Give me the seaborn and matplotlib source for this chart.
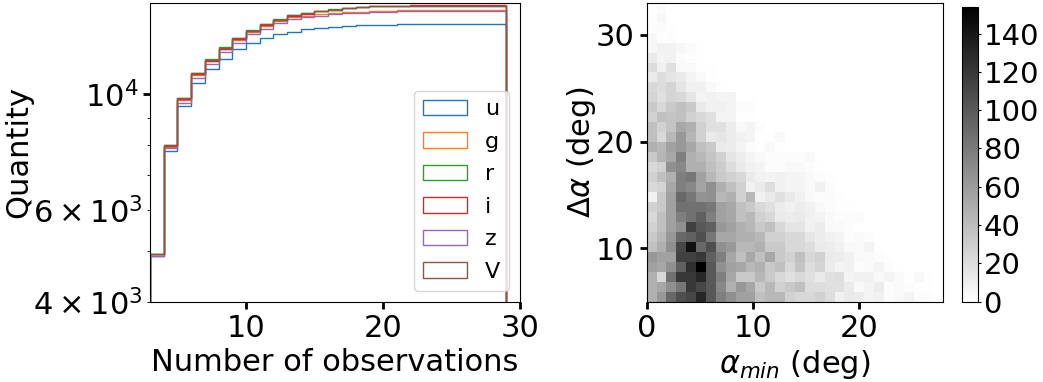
import numpy as np
import matplotlib
matplotlib.use("Agg")
import matplotlib.pyplot as plt
import seaborn as sns

plt.rcParams["font.family"] = ["DejaVu Sans"]
plt.rcParams["font.size"] = 22
plt.rcParams["mathtext.fontset"] = "dejavusans"

# ---------------- cumulative number of objects vs. number of observations
obs_edges = np.arange(3, 30)          # bins [3,4), [4,5), ... [28,29]
filters = ["u", "g", "r", "i", "z", "V"]

cum_u = [4895, 7794, 9504, 10530, 11200, 11705, 12200, 12564, 12808, 13055,
         13190, 13330, 13427, 13483, 13527, 13570, 13587, 13605, 13615, 13622,
         13627, 13627, 13627, 13627, 13627, 13627]
cum_g = [4905, 7940, 9760, 10880, 11570, 12190, 12710, 13170, 13520, 13820,
         14080, 14140, 14245, 14307, 14370, 14410, 14452, 14475, 14495, 14517,
         14517, 14517, 14517, 14517, 14517, 14517]
cum_r = [4940, 8000, 9835, 10990, 11665, 12305, 12830, 13275, 13655, 13940,
         14200, 14340, 14480, 14570, 14660, 14740, 14775, 14795, 14800, 14800,
         14800, 14800, 14800, 14800, 14800, 14800]
cum_i = [4930, 7960, 9790, 10930, 11610, 12240, 12760, 13200, 13580, 13870,
         14130, 14280, 14430, 14520, 14615, 14700, 14750, 14790, 14805, 14810,
         14810, 14810, 14810, 14810, 14810, 14810]
cum_z = [4900, 7878, 9640, 10736, 11436, 12043, 12563, 13055, 13364, 13688,
         13970, 14050, 14160, 14245, 14307, 14346, 14389, 14410, 14430, 14445,
         14452, 14452, 14452, 14452, 14452, 14452]
cum_V = [4937, 7994, 9825, 10975, 11645, 12288, 12808, 13250, 13627, 13908,
         14166, 14307, 14452, 14536, 14627, 14710, 14757, 14795, 14795, 14795,
         14795, 14795, 14795, 14795, 14795, 14795]
cumulative = [cum_u, cum_g, cum_r, cum_i, cum_z, cum_V]

# ---------------- phase-angle coverage: alpha_min vs. delta alpha
alpha_min_range = (0.0, 27.9)
delta_alpha_range = (5.0, 33.0)
n_bins = 30
# counts per cell, first row = largest delta alpha
counts_rows = [
    [0, 3, 0, 0, 0, 0, 0, 0, 0, 0, 0, 0, 0, 0, 0, 0, 0, 0, 0, 0, 0, 0, 0, 0, 0, 0, 0, 0, 0, 0],
    [1, 5, 0, 0, 0, 0, 0, 0, 0, 0, 0, 0, 0, 0, 0, 0, 0, 0, 0, 0, 0, 0, 0, 0, 0, 0, 0, 0, 0, 0],
    [2, 3, 1, 0, 0, 0, 0, 0, 0, 0, 0, 0, 0, 0, 0, 0, 0, 0, 0, 0, 0, 0, 0, 0, 0, 0, 0, 0, 0, 0],
    [5, 1, 2, 0, 0, 0, 0, 0, 0, 0, 0, 0, 0, 0, 0, 0, 0, 0, 0, 0, 0, 0, 0, 0, 0, 0, 0, 0, 0, 0],
    [6, 8, 8, 5, 3, 1, 0, 0, 0, 0, 0, 0, 0, 0, 0, 0, 0, 0, 0, 0, 0, 0, 0, 0, 0, 0, 0, 0, 0, 0],
    [13, 7, 9, 3, 1, 1, 0, 0, 0, 0, 0, 0, 0, 0, 0, 0, 0, 0, 0, 0, 0, 0, 0, 0, 0, 0, 0, 0, 0, 0],
    [21, 9, 19, 4, 4, 1, 1, 0, 0, 0, 0, 0, 0, 0, 0, 0, 0, 0, 0, 0, 0, 0, 0, 0, 0, 0, 0, 0, 0, 0],
    [13, 21, 16, 13, 7, 4, 1, 0, 0, 0, 0, 0, 0, 0, 0, 0, 0, 0, 0, 0, 0, 0, 0, 0, 0, 0, 0, 0, 0, 0],
    [24, 21, 26, 16, 9, 9, 4, 1, 0, 0, 0, 0, 0, 0, 0, 0, 0, 0, 0, 0, 0, 0, 0, 0, 0, 0, 0, 0, 0, 0],
    [26, 19, 26, 24, 16, 7, 9, 7, 7, 0, 1, 0, 0, 0, 0, 0, 0, 0, 0, 0, 0, 0, 0, 0, 0, 0, 0, 0, 0, 0],
    [33, 24, 33, 38, 33, 13, 9, 9, 7, 2, 2, 0, 0, 0, 0, 0, 0, 0, 0, 0, 0, 0, 0, 0, 0, 0, 0, 0, 0, 0],
    [28, 38, 36, 38, 28, 24, 19, 7, 7, 1, 1, 0, 0, 0, 0, 0, 0, 0, 0, 0, 0, 0, 0, 0, 0, 0, 0, 0, 0, 0],
    [38, 28, 36, 53, 48, 28, 19, 19, 12, 4, 7, 2, 0, 0, 0, 0, 0, 0, 0, 0, 0, 0, 0, 0, 0, 0, 0, 0, 0, 0],
    [38, 24, 43, 62, 45, 28, 13, 16, 12, 9, 7, 1, 1, 4, 0, 0, 0, 0, 0, 0, 0, 0, 0, 0, 0, 0, 0, 0, 0, 0],
    [48, 43, 57, 62, 53, 38, 33, 13, 12, 7, 2, 1, 4, 1, 0, 0, 0, 0, 0, 0, 0, 0, 0, 0, 0, 0, 0, 0, 0, 0],
    [33, 45, 53, 77, 48, 43, 36, 28, 16, 11, 7, 4, 2, 2, 2, 2, 4, 0, 0, 0, 0, 0, 0, 0, 0, 0, 0, 0, 0, 0],
    [24, 28, 67, 72, 48, 48, 38, 31, 21, 13, 9, 7, 2, 2, 4, 4, 2, 1, 0, 0, 0, 0, 0, 0, 0, 0, 0, 0, 0, 0],
    [28, 38, 48, 77, 82, 57, 43, 33, 28, 24, 13, 9, 7, 9, 7, 7, 4, 2, 1, 0, 0, 0, 0, 0, 0, 0, 0, 0, 0, 0],
    [24, 26, 53, 77, 72, 55, 67, 48, 38, 28, 9, 13, 21, 9, 7, 7, 4, 9, 2, 0, 0, 0, 0, 0, 0, 0, 0, 0, 0, 0],
    [9, 33, 57, 91, 82, 65, 67, 43, 48, 28, 43, 9, 13, 19, 13, 9, 4, 2, 3, 1, 0, 0, 0, 0, 0, 0, 0, 0, 0, 0],
    [28, 33, 57, 86, 86, 86, 82, 57, 53, 38, 33, 24, 19, 12, 9, 12, 9, 4, 2, 1, 1, 0, 0, 0, 0, 0, 0, 0, 0, 0],
    [24, 38, 57, 77, 86, 96, 77, 57, 53, 38, 43, 28, 24, 13, 12, 13, 9, 7, 4, 2, 2, 3, 0, 0, 0, 0, 0, 0, 0, 0],
    [28, 38, 57, 67, 115, 101, 96, 62, 57, 48, 43, 33, 38, 24, 16, 16, 9, 12, 4, 4, 2, 0, 0, 0, 0, 0, 0, 0, 0, 0],
    [33, 43, 62, 91, 96, 106, 82, 53, 53, 48, 48, 43, 28, 28, 24, 24, 16, 12, 9, 7, 2, 4, 2, 0, 0, 0, 0, 0, 0, 0],
    [38, 48, 67, 111, 144, 91, 106, 67, 62, 43, 43, 48, 33, 33, 24, 24, 21, 13, 12, 9, 4, 4, 7, 1, 0, 0, 0, 0, 0, 0],
    [62, 57, 57, 115, 115, 120, 96, 77, 53, 38, 53, 38, 53, 33, 28, 38, 24, 28, 13, 12, 9, 4, 4, 2, 1, 0, 0, 0, 0, 0],
    [57, 53, 67, 96, 125, 154, 101, 67, 57, 53, 43, 48, 33, 38, 24, 36, 21, 26, 12, 7, 9, 2, 4, 7, 2, 1, 0, 0, 0, 0],
    [48, 24, 86, 120, 120, 130, 101, 77, 53, 33, 33, 43, 33, 24, 19, 24, 19, 13, 19, 21, 7, 9, 9, 4, 7, 4, 1, 4, 1, 0],
    [48, 53, 67, 82, 120, 111, 101, 72, 48, 62, 53, 33, 43, 28, 33, 38, 21, 21, 19, 19, 13, 4, 7, 12, 2, 4, 2, 1, 1, 0],
    [48, 62, 91, 106, 111, 130, 101, 77, 67, 57, 57, 38, 43, 43, 28, 24, 24, 28, 21, 9, 13, 12, 7, 9, 2, 4, 7, 2, 2, 1],
]
cbar_ticks = [0, 20, 40, 60, 80, 100, 120, 140]

# ---------------- figure
fig = plt.figure(figsize=(10.43, 3.82), dpi=100)
W, H = 1043, 382
ax1 = fig.add_axes([150 / W, 80.3 / H, 370 / W, 299 / H])
ax2 = fig.add_axes([646.7 / W, 80.3 / H, 296.6 / W, 299 / H])
cax = fig.add_axes([962 / W, 80.3 / H, 16 / W, 295 / H])

# left: cumulative step histograms, one per filter
for name, cum in zip(filters, cumulative):
    per_bin = np.diff(np.asarray(cum, dtype=float), prepend=0.0)
    ax1.hist(obs_edges[:-1], bins=obs_edges, weights=per_bin, cumulative=True,
             histtype="step", label=name, linewidth=1.0)
ax1.set_yscale("log")
ax1.set_xlim(3, 30)
ax1.set_ylim(4000, 14990)
ax1.set_xticks([10, 20, 30])
ax1.set_xlabel("Number of observations")
ax1.set_ylabel("Quantity")
ax1.yaxis.set_label_coords(-0.316, 0.5)
ax1.tick_params(which="major", length=5, width=2)
ax1.legend(loc="lower right", fontsize=16, labelspacing=0.56)

# right: 2-D histogram of alpha_min vs delta alpha
counts = np.flipud(np.array(counts_rows, dtype=float))   # row 0 = smallest delta alpha
x_edges = np.linspace(*alpha_min_range, n_bins + 1)
y_edges = np.linspace(*delta_alpha_range, n_bins + 1)
xc = 0.5 * (x_edges[:-1] + x_edges[1:])
yc = 0.5 * (y_edges[:-1] + y_edges[1:])
XX, YY = np.meshgrid(xc, yc)
sns.histplot(x=XX.ravel(), y=YY.ravel(), weights=counts.ravel(),
             bins=(x_edges, y_edges), cmap="gray_r", vmin=0, vmax=counts.max(),
             cbar=True, cbar_ax=cax, cbar_kws={"ticks": cbar_ticks}, ax=ax2)
ax2.set_xlim(*alpha_min_range)
ax2.set_ylim(*delta_alpha_range)
ax2.set_xticks([0, 10, 20])
ax2.set_yticks([10, 20, 30])
ax2.set_xlabel(r"$\alpha_{min}$ (deg)")
ax2.set_ylabel(r"$\Delta\alpha$ (deg)")
ax2.yaxis.set_label_coords(-0.164, 0.5)
ax2.tick_params(which="major", length=5, width=2)
cax.tick_params(labelsize=21, length=2.5, pad=1.5)

fig.savefig("out.png", dpi=100)
